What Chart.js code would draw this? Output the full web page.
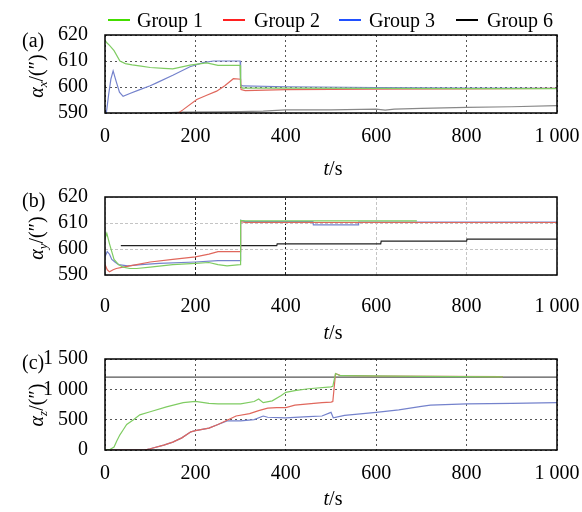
<!DOCTYPE html>
<html><head><meta charset="utf-8">
<script src="https://cdn.jsdelivr.net/npm/chart.js@4.4.1/dist/chart.umd.min.js"></script>
<style>
body{margin:0;width:582px;height:512px;background:#fff;position:relative;overflow:hidden;font-family:"Liberation Serif","Tinos","Times New Roman","DejaVu Serif",serif;color:#000}
canvas{position:absolute;left:0}
.t{position:absolute;font-size:20px;line-height:20px;white-space:nowrap}
.ln{position:absolute;height:2px;width:22px}
.yt{position:absolute;font-size:20px;line-height:20px;white-space:nowrap;transform:translate(-50%,-50%) rotate(-90deg)}
.xt{position:absolute;font-size:20px;line-height:20px;white-space:nowrap;transform:translate(-50%,-50%)}
sub{font-size:13px;vertical-align:-4px;line-height:0}
</style></head><body>
<canvas id="ca" width="582" height="180" style="top:0"></canvas>
<canvas id="cb" width="582" height="165" style="top:180px"></canvas>
<canvas id="cc" width="582" height="167" style="top:345px"></canvas>

<span class="ln" style="left:108px;top:19px;background:#44dd00"></span><span class="t" style="left:137px;top:10px">Group 1</span>
<span class="ln" style="left:223px;top:19px;background:#ff2020"></span><span class="t" style="left:254px;top:10px">Group 2</span>
<span class="ln" style="left:339px;top:19px;background:#2050ff"></span><span class="t" style="left:369px;top:10px">Group 3</span>
<span class="ln" style="left:456px;top:19px;background:#000"></span><span class="t" style="left:487px;top:10px">Group 6</span>

<span class="t" style="left:22px;top:30px">(a)</span>
<span class="t" style="left:22px;top:190px">(b)</span>
<span class="t" style="left:22px;top:352px">(c)</span>
<div class="yt" style="left:36px;top:76px"><i>α</i><sub><i>x</i></sub>/(″)</div>
<div class="yt" style="left:36px;top:238px"><i>α</i><sub><i>y</i></sub>/(″)</div>
<div class="yt" style="left:36px;top:405px"><i>α</i><sub><i>z</i></sub>/(″)</div>
<div class="xt" style="left:333px;top:168px"><i>t</i>/s</div>
<div class="xt" style="left:333px;top:332px"><i>t</i>/s</div>
<div class="xt" style="left:333px;top:498px"><i>t</i>/s</div>

<script>
// ---- tick labels ----
const xTicks = [0, 200, 400, 600, 800, 1000];
const aYTicks = [590, 600, 610, 620];
const bYTicks = [590, 600, 610, 620];
const cYTicks = [0, 500, 1000, 1500];
const groupNames = ['Group 1', 'Group 2', 'Group 3', 'Group 6'];

// ---- panel (a): alpha_x ----
const aT1 = [0,4,10,20,33,45,60,80,100,130,150,188,225,250,270,299,300,304,400,600,800,1000];
const aG1 = [618,617,616,614,610,609,608.5,608,607.5,607.2,607,608.4,609.3,608.3,608.3,608.3,600.5,599.6,599.6,599.5,599.4,599.4];
const aT2 = [150,173,203,225,247,265,284,300,301,310,400,600,800,1000];
const aG2 = [588.5,591.3,595.2,596.8,598.4,600.5,603.2,603,599,598.6,599,599.2,599.3,599.5];
const aT3 = [0,3,8,13,18,25,32,40,55,77,100,114,150,188,217,240,299,300,305,400,600,800,1000];
const aG3 = [588,590,597,603,606.2,602,598,596.4,597.5,599,600.5,601.6,604.5,607.8,609.4,610,610,600.8,600.4,600.1,599.8,599.6,599.5];
const aT6 = [0,100,170,250,300,350,400,500,600,620,640,700,800,900,1000];
const aG6 = [589.6,589.9,590.3,590.4,590.5,590.7,591.2,591.2,591.5,591.1,591.5,591.8,592.2,592.4,592.8];

// ---- panel (b): alpha_y ----
const bT1 = [0,4,10,20,30,40,55,70,100,150,200,230,250,270,299,300,310,690];
const bG1 = [604,606,602,596,594,593,592.5,592.5,593,594,594.5,594.8,594,593.5,594,611,610.8,610.8];
const bT2 = [0,5,10,18,25,40,70,100,150,200,230,250,299,300,310,1000];
const bG2 = [594,592,591.2,592,592.5,593,594,595,596,597,598,599,599,610.5,610.2,610.2];
const bT3 = [0,5,10,15,22,30,50,80,120,200,250,299,300,310,460,461,560,561,1000];
const bG3 = [597,599,598,596,595,594,593.5,594,594.5,595,595.5,595.5,611,610.5,610.5,609.3,609.3,610.3,610.3];
const bT6 = [35,380,381,610,611,800,801,1000];
const bG6 = [601.3,601.3,602,602,603,603,603.8,603.8];

// ---- panel (c): alpha_z ----
const cT1 = [0,10,20,26,33,40,48,63,77,100,136,173,200,230,250,300,330,340,350,370,390,400,420,450,500,504,510,520,700,880];
const cG1 = [0,5,50,150,250,330,420,500,580,630,710,780,800,770,760,760,800,840,780,810,900,950,980,1010,1040,1050,1260,1225,1215,1205];
const cT2 = [0,87,100,130,150,170,190,200,230,250,270,290,320,340,360,380,400,420,450,480,500,504,510,520,600,880];
const cG2 = [0,0,20,80,130,200,300,320,360,420,490,560,600,650,690,700,700,740,760,780,790,800,1260,1230,1220,1210];
const cT3 = [0,87,100,130,150,170,190,200,230,250,270,300,330,350,360,400,450,480,500,505,530,600,650,700,720,800,900,1000];
const cG3 = [0,0,20,80,130,200,300,320,360,420,480,480,500,560,540,530,550,560,620,530,570,620,660,720,740,760,770,780];
const cT6 = [0,1000];
const cG6 = [1200,1200];

const lineColors = ['#7fcc62', '#e0675c', '#7482cc', '#444444'];

function pts(t, v) { return t.map((x, i) => ({x: x, y: v[i]})); }
function fmt(v) { return String(v).replace(/\B(?=(\d{3})+(?!\d))/g, ' '); }

const boxPlugin = {
  id: 'box',
  afterDraw(chart) {
    const a = chart.chartArea, ctx = chart.ctx;
    ctx.save();
    ctx.strokeStyle = '#000';
    ctx.lineWidth = 1.5;
    ctx.strokeRect(a.left, a.top, a.right - a.left, a.bottom - a.top);
    ctx.restore();
  }
};

function makeChart(id, series, yTicks, padTop, xH, xPad, xGridColor, yGridColor, dash, g6Color) {
  const datasets = series.map((s, i) => ({
    label: groupNames[i],
    data: pts(s[0], s[1]),
    borderColor: (i === 3 && g6Color) ? g6Color : lineColors[i],
    borderWidth: 1.2,
    pointRadius: 0,
    fill: false,
    tension: 0
  }));
  const font = {family: '"Liberation Serif","Tinos","Times New Roman","DejaVu Serif",serif', size: 20};
  return new Chart(document.getElementById(id), {
    type: 'line',
    data: {datasets: datasets},
    plugins: [boxPlugin],
    options: {
      responsive: false,
      animation: false,
      devicePixelRatio: 1,
      layout: {padding: {top: padTop, left: 0, right: 0, bottom: 0}},
      plugins: {legend: {display: false}, tooltip: {enabled: false}},
      scales: {
        x: {
          type: 'linear', min: 0, max: 1000,
          afterBuildTicks: s => { s.ticks = xTicks.map(v => ({value: v})); },
          afterFit: s => { s.height = xH; s.paddingLeft = 0; s.paddingRight = 25; },
          ticks: {color: '#000', font: font, padding: xPad, maxRotation: 0, autoSkip: false, callback: v => fmt(v)},
          grid: {color: xGridColor, drawTicks: false, lineWidth: 1},
          border: {display: false, dash: dash}
        },
        y: {
          type: 'linear', min: yTicks[0], max: yTicks[yTicks.length - 1],
          afterBuildTicks: s => { s.ticks = yTicks.map(v => ({value: v})); },
          afterFit: s => { s.width = 105; s.paddingTop = 0; s.paddingBottom = 0; },
          ticks: {color: '#000', font: font, padding: 17, autoSkip: false, callback: v => fmt(v)},
          grid: {color: yGridColor, drawTicks: false, lineWidth: 1},
          border: {display: false, dash: dash}
        }
      }
    }
  });
}

makeChart('ca', [[aT1, aG1], [aT2, aG2], [aT3, aG3], [aT6, aG6]], aYTicks, 35, 67, 12,
  '#555', '#555', [2, 3], '#888888');
makeChart('cb', [[bT1, bG1], [bT2, bG2], [bT3, bG3], [bT6, bG6]], bYTicks, 17, 70, 20,
  c => (c.tick && (c.tick.value === 200 || c.tick.value === 400)) ? '#222' : '#c4c4c4', '#c4c4c4', [3, 2], '#222222');
makeChart('cc', [[cT1, cG1], [cT2, cG2], [cT3, cG3], [cT6, cG6]], cYTicks, 14, 62, 12,
  '#555', '#555', [2, 3], '#555555');
</script>
</body></html>
